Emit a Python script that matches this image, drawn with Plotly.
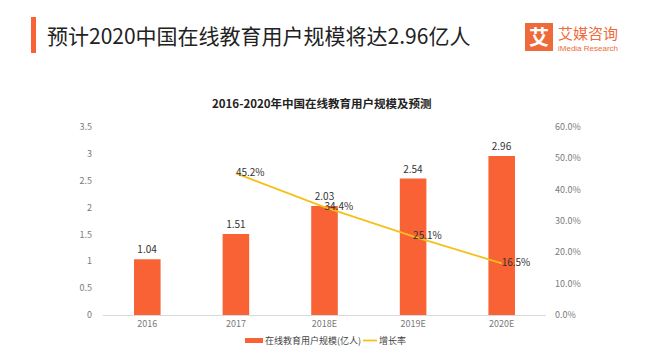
import plotly.graph_objects as go

categories = ["2016", "2017", "2018E", "2019E", "2020E"]
users = [1.04, 1.51, 2.03, 2.54, 2.96]
growth_cats = ["2017", "2018E", "2019E", "2020E"]
growth = [0.452, 0.344, 0.251, 0.165]
growth_labels = ["45.2%", "34.4%", "25.1%", "16.5%"]
left_ticks = [0, 0.5, 1, 1.5, 2, 2.5, 3, 3.5]
left_tick_text = ["0", "0.5", "1", "1.5", "2", "2.5", "3", "3.5"]
right_ticks = [0, 0.1, 0.2, 0.3, 0.4, 0.5, 0.6]
right_tick_text = ["0.0%", "10.0%", "20.0%", "30.0%", "40.0%", "50.0%", "60.0%"]
bar_name = "在线教育用户规模(亿人)"
line_name = "增长率"

FONT = "Noto Sans CJK SC"
ORANGE = "#F96235"
GOLD = "#F4C11B"
GRAY = "#7a7a7a"

# page has an 8px body margin; compensate so page coords match the reference
OFF = 8
FW, FH = 649 - OFF, 364 - OFF
PL, PR, PT, PB = 103, 546, 127, 315  # plot area in page pixels
L, R, T, B = PL - OFF, FW - (PR - OFF), PT - OFF, FH - (PB - OFF)
W = PR - PL
H = PB - PT


def px(x):
    return (x - PL) / W


def py(y):
    return (PB - y) / H


fig = go.Figure()
fig.add_trace(go.Bar(
    x=categories, y=users, name=bar_name,
    marker=dict(color=ORANGE, line=dict(width=0)),
    width=0.3,
    text=[f"{v:.2f}" for v in users], textposition="outside",
    textfont=dict(size=10, color="#333333", family=FONT),
    cliponaxis=False, showlegend=False,
))
fig.add_trace(go.Scatter(
    x=growth_cats, y=growth, name=line_name, yaxis="y2",
    mode="lines+text", line=dict(color=GOLD, width=1.8),
    text=growth_labels, textposition="middle right",
    textfont=dict(size=10, color="#333333", family=FONT),
    cliponaxis=False, showlegend=False,
))

fig.update_layout(
    width=FW, height=FH,
    margin=dict(l=L, r=R, t=T, b=B, autoexpand=False),
    paper_bgcolor="white", plot_bgcolor="white",
    font=dict(family=FONT, color=GRAY, size=9),
    showlegend=False,
    xaxis=dict(type="category", showgrid=False, showline=True, linecolor="#d9d9d9",
               linewidth=1, ticks="", tickfont=dict(size=9, color=GRAY), zeroline=False,
               automargin=False),
    yaxis=dict(range=[0, 3.5], tickvals=left_ticks, ticktext=left_tick_text,
               showgrid=False, zeroline=False, showline=False,
               tickfont=dict(size=9, color=GRAY), ticklabelstandoff=10, automargin=False),
    yaxis2=dict(range=[0, 0.6], tickvals=right_ticks, ticktext=right_tick_text,
                overlaying="y", side="right", showgrid=False, zeroline=False,
                showline=False, tickfont=dict(size=9, color=GRAY), ticklabelstandoff=8,
                automargin=False),
)

# legend (drawn to match the reference's swatch shapes)
fig.add_shape(type="rect", xref="paper", yref="paper",
              x0=px(245), x1=px(263), y0=py(343), y1=py(338),
              fillcolor=ORANGE, line=dict(width=0))
fig.add_annotation(text=bar_name, xref="paper", yref="paper",
                   x=px(264), y=py(340.5), xanchor="left", yanchor="middle",
                   showarrow=False, borderpad=0, font=dict(size=9, color="#444444", family=FONT))
fig.add_shape(type="line", xref="paper", yref="paper",
              x0=px(363), x1=px(377), y0=py(340.5), y1=py(340.5),
              line=dict(color=GOLD, width=1.8))
fig.add_annotation(text=line_name, xref="paper", yref="paper",
                   x=px(378), y=py(340.5), xanchor="left", yanchor="middle",
                   showarrow=False, borderpad=0, font=dict(size=9, color="#444444", family=FONT))

# header bar and title
fig.add_shape(type="rect", xref="paper", yref="paper",
              x0=px(31), x1=px(36), y0=py(53), y1=py(17),
              fillcolor=ORANGE, line=dict(width=0), layer="above")
fig.add_annotation(text="预计2020中国在线教育用户规模将达2.96亿人", xref="paper", yref="paper",
                   x=px(46), y=py(35), xanchor="left", yanchor="middle",
                   showarrow=False, borderpad=0,
                   font=dict(size=21, color="#222222", family=FONT))
# logo
fig.add_shape(type="rect", xref="paper", yref="paper",
              x0=px(525), x1=px(553), y0=py(51), y1=py(23),
              fillcolor="#EE6A3A", line=dict(width=0), layer="above")
fig.add_annotation(text="<b>艾</b>", xref="paper", yref="paper",
                   x=px(539), y=py(37), xanchor="center", yanchor="middle",
                   showarrow=False, font=dict(size=20, color="white", family=FONT))
fig.add_annotation(text="艾媒咨询", xref="paper", yref="paper",
                   x=px(557), y=py(32), xanchor="left", yanchor="middle",
                   showarrow=False, borderpad=0,
                   font=dict(size=15, color="#EE6A3A", family=FONT))
fig.add_annotation(text="iMedia Research", xref="paper", yref="paper",
                   x=px(557), y=py(48.5), xanchor="left", yanchor="middle",
                   showarrow=False, borderpad=0,
                   font=dict(size=8, color="#EE6A3A", family="Liberation Sans"))
# chart title
fig.add_annotation(text="<b>2016-2020年中国在线教育用户规模及预测</b>", xref="paper", yref="paper",
                   x=px(322), y=py(103), xanchor="center", yanchor="middle",
                   showarrow=False, font=dict(size=11.5, color="#222222", family=FONT))

fig.write_html("out.html")
